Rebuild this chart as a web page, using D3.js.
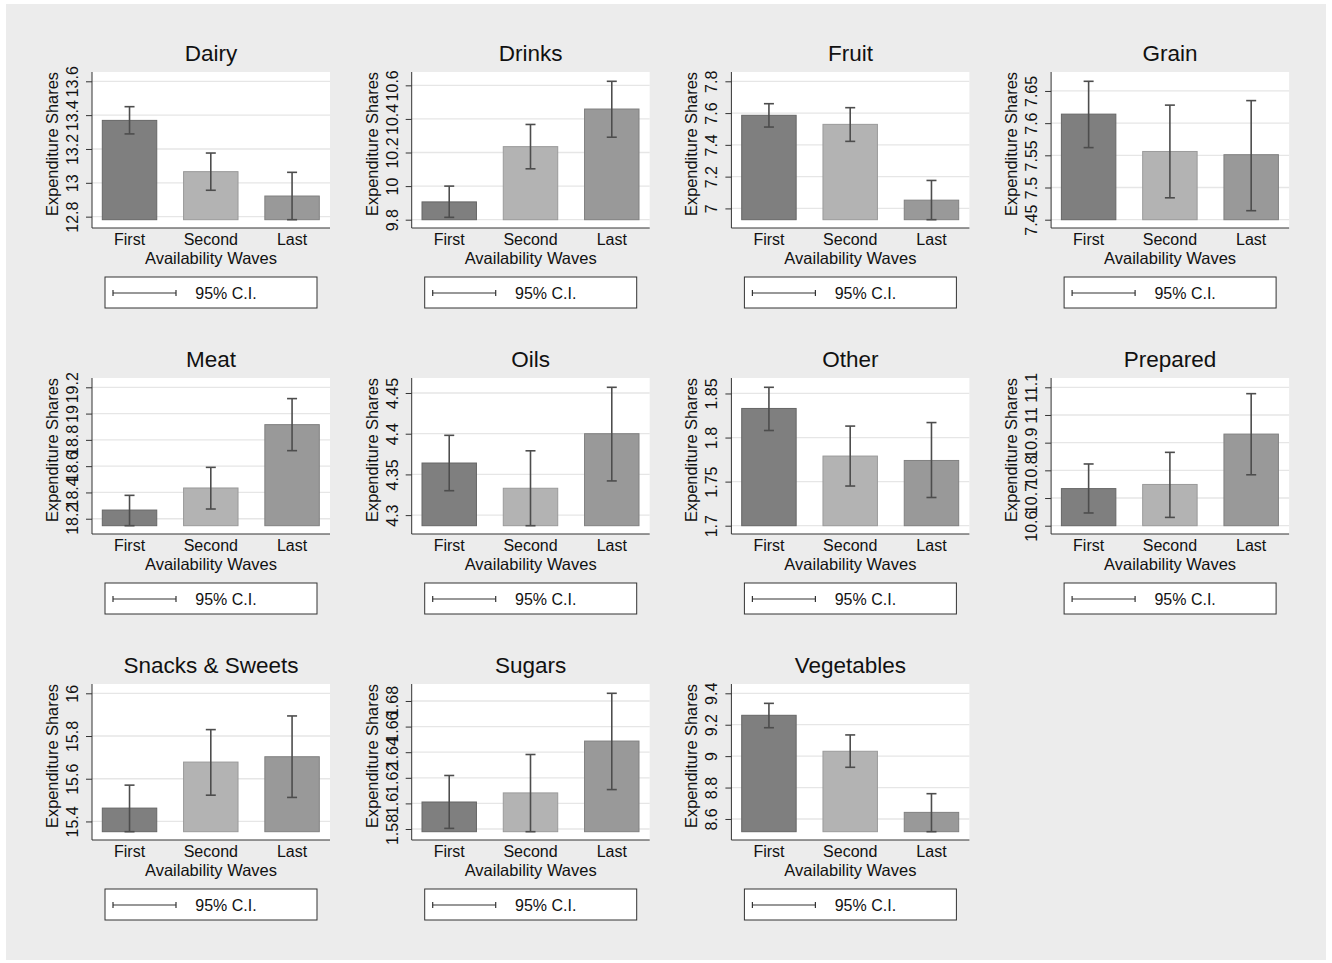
<!DOCTYPE html>
<html>
<head>
<meta charset="utf-8">
<script src="https://cdn.jsdelivr.net/npm/d3@7"></script>
<style>
  body { margin: 0; background: #fff; }
  text { font-family: "Liberation Sans", Arial, Helvetica, sans-serif; }
</style>
</head>
<body>
<div id="chart"></div>
<script>
/* CONSTANTS AND GLOBALS */
const width = 1332,
  height = 963;

// data
const groups = ["Dairy", "Drinks", "Fruit", "Grain", "Meat", "Oils", "Other", "Prepared",
  "Snacks & Sweets", "Sugars", "Vegetables"];
const waves = ["First", "Second", "Last"];

const means = [
  [13.369, 13.066, 12.922],
  [9.906, 10.235, 10.459],
  [7.586, 7.529, 7.052],
  [7.614, 7.556, 7.551],
  [18.266, 18.434, 18.916],
  [4.364, 4.333, 4.400],
  [1.833, 1.779, 1.774],
  [10.734, 10.749, 10.931],
  [15.4625, 15.678, 15.703],
  [1.6011, 1.6082, 1.6487],
  [9.260, 9.031, 8.642]
];
const ciLow = [
  [13.289, 12.956, 12.782],
  [9.814, 10.103, 10.291],
  [7.512, 7.422, 6.929],
  [7.562, 7.484, 7.464],
  [18.147, 18.274, 18.718],
  [4.330, 4.287, 4.342],
  [1.808, 1.745, 1.732],
  [10.646, 10.630, 10.784],
  [15.352, 15.523, 15.5125],
  [1.5805, 1.5779, 1.6108],
  [9.181, 8.929, 8.519]
];
const ciHigh = [
  [13.450, 13.176, 13.062],
  [10.0, 10.367, 10.624],
  [7.659, 7.634, 7.176],
  [7.665, 7.628, 7.635],
  [18.378, 18.591, 19.114],
  [4.398, 4.379, 4.457],
  [1.857, 1.813, 1.817],
  [10.823, 10.865, 11.077],
  [15.570, 15.830, 15.894],
  [1.6218, 1.6382, 1.6860],
  [9.336, 9.135, 8.761]
];
const yTicks = [
  [12.8, 13, 13.2, 13.4, 13.6],
  [9.8, 10, 10.2, 10.4, 10.6],
  [7, 7.2, 7.4, 7.6, 7.8],
  [7.45, 7.5, 7.55, 7.6, 7.65],
  [18.2, 18.4, 18.6, 18.8, 19, 19.2],
  [4.3, 4.35, 4.4, 4.45],
  [1.7, 1.75, 1.8, 1.85],
  [10.6, 10.7, 10.8, 10.9, 11, 11.1],
  [15.4, 15.6, 15.8, 16],
  [1.58, 1.6, 1.62, 1.64, 1.66, 1.68],
  [8.6, 8.8, 9, 9.2, 9.4]
];

const barFill = ["#7f7f7f", "#b3b3b3", "#999999"];
const barStroke = ["#666666", "#9a9a9a", "#808080"];

// panel geometry
const colStep = 319.7, rowStep = 306,
  plotW = 238, plotH = 156,
  left0 = 92, top0 = 72;

const svg = d3.select("#chart")
  .append("svg")
  .attr("width", width)
  .attr("height", height)

svg.append("rect")
  .attr("x", 6).attr("y", 4)
  .attr("width", 1320).attr("height", 956)
  .attr("fill", "#ececec")

const fmt = v => String(+v.toFixed(3));

groups.forEach((name, i) => {
  const ox = left0 + (i % 4) * colStep,
    oy = top0 + Math.floor(i / 4) * rowStep;

  const lo = d3.min([d3.min(yTicks[i]), d3.min(ciLow[i]), d3.min(means[i])]),
    hi = d3.max([d3.max(yTicks[i]), d3.max(ciHigh[i])]);

  const xScale = d3.scaleBand()
    .domain(waves)
    .range([ox + 10.3, ox + plotW - 10.7])
    .paddingInner(0.33)
    .paddingOuter(0)

  const yScale = d3.scaleLinear()
    .domain([lo, hi])
    .range([oy + plotH - 8.3, oy + 9.3])

  const g = svg.append("g").attr("class", "panel")

  // plot region
  g.append("rect")
    .attr("x", ox).attr("y", oy)
    .attr("width", plotW).attr("height", plotH)
    .attr("fill", "#fff")

  // gridlines
  g.selectAll("line.grid")
    .data(yTicks[i])
    .join("line")
    .attr("class", "grid")
    .attr("x1", ox).attr("x2", ox + plotW)
    .attr("y1", d => yScale(d)).attr("y2", d => yScale(d))
    .attr("stroke", "#e6e6e6")
    .attr("stroke-width", 1.3)

  // bars
  g.selectAll("rect.bar")
    .data(waves)
    .join("rect")
    .attr("class", "bar")
    .attr("x", d => xScale(d))
    .attr("width", xScale.bandwidth())
    .attr("y", (d, j) => yScale(means[i][j]))
    .attr("height", (d, j) => yScale(lo) - yScale(means[i][j]))
    .attr("fill", (d, j) => barFill[j])
    .attr("stroke", (d, j) => barStroke[j])
    .attr("stroke-width", 1)

  // confidence intervals
  const ci = g.selectAll("g.ci")
    .data(waves)
    .join("g")
    .attr("class", "ci")
    .attr("stroke", "#4d4d4d")
    .attr("stroke-width", 1.6)
  const cx = d => xScale(d) + xScale.bandwidth() / 2;
  ci.append("line")
    .attr("x1", cx).attr("x2", cx)
    .attr("y1", (d, j) => yScale(ciLow[i][j]))
    .attr("y2", (d, j) => yScale(ciHigh[i][j]))
  ci.append("line")
    .attr("x1", d => cx(d) - 5).attr("x2", d => cx(d) + 5)
    .attr("y1", (d, j) => yScale(ciLow[i][j]))
    .attr("y2", (d, j) => yScale(ciLow[i][j]))
  ci.append("line")
    .attr("x1", d => cx(d) - 5).attr("x2", d => cx(d) + 5)
    .attr("y1", (d, j) => yScale(ciHigh[i][j]))
    .attr("y2", (d, j) => yScale(ciHigh[i][j]))

  // y axis
  const yAxis = d3.axisLeft(yScale)
    .tickValues(yTicks[i])
    .tickSize(6)
    .tickFormat(fmt)
  const yAxisGroup = g.append("g")
    .attr("transform", `translate(${ox}, 0)`)
    .call(yAxis)
  yAxisGroup.select(".domain")
    .attr("d", `M0,${oy}V${oy + plotH}`)
    .attr("stroke", "#333")
  yAxisGroup.selectAll(".tick line").attr("stroke", "#333")
  yAxisGroup.selectAll(".tick text")
    .attr("x", null).attr("dy", null)
    .attr("text-anchor", "middle")
    .attr("transform", "translate(-14, 0) rotate(-90)")
    .attr("font-size", 16)
    .attr("fill", "#111")
    .attr("font-family", "\"Liberation Sans\", Arial, sans-serif")

  // x axis
  const xAxis = d3.axisBottom(xScale).tickSize(0).tickPadding(5)
  const xAxisGroup = g.append("g")
    .attr("transform", `translate(0, ${oy + plotH})`)
    .call(xAxis)
  xAxisGroup.select(".domain")
    .attr("d", `M${ox},0H${ox + plotW}`)
    .attr("stroke", "#333")
  xAxisGroup.selectAll(".tick text")
    .attr("y", 17).attr("dy", null)
    .attr("font-size", 16)
    .attr("fill", "#111")
    .attr("font-family", "\"Liberation Sans\", Arial, sans-serif")

  // titles
  g.append("text")
    .attr("x", ox + plotW / 2).attr("y", oy - 11)
    .attr("text-anchor", "middle")
    .attr("font-size", 22.5)
    .attr("fill", "#111")
    .text(name)

  g.append("text")
    .attr("x", ox + plotW / 2).attr("y", oy + plotH + 36)
    .attr("text-anchor", "middle")
    .attr("font-size", 16.5)
    .attr("fill", "#111")
    .text("Availability Waves")

  g.append("text")
    .attr("transform", `translate(${ox - 34}, ${oy + plotH / 2 - 6}) rotate(-90)`)
    .attr("text-anchor", "middle")
    .attr("font-size", 16.4)
    .attr("fill", "#111")
    .text("Expenditure Shares")

  // legend
  const lx = ox + 13, ly = oy + 205;
  g.append("rect")
    .attr("x", lx).attr("y", ly)
    .attr("width", 212).attr("height", 31)
    .attr("fill", "#fff")
    .attr("stroke", "#333")
    .attr("stroke-width", 1)
  const leg = g.append("g").attr("stroke", "#333").attr("stroke-width", 1.2)
  leg.append("line").attr("x1", lx + 8).attr("x2", lx + 71).attr("y1", ly + 16).attr("y2", ly + 16)
  leg.append("line").attr("x1", lx + 8).attr("x2", lx + 8).attr("y1", ly + 13).attr("y2", ly + 19)
  leg.append("line").attr("x1", lx + 71).attr("x2", lx + 71).attr("y1", ly + 13).attr("y2", ly + 19)
  g.append("text")
    .attr("x", lx + 121).attr("y", ly + 22)
    .attr("text-anchor", "middle")
    .attr("font-size", 16)
    .attr("fill", "#111")
    .text("95% C.I.")
});
</script>
</body>
</html>
